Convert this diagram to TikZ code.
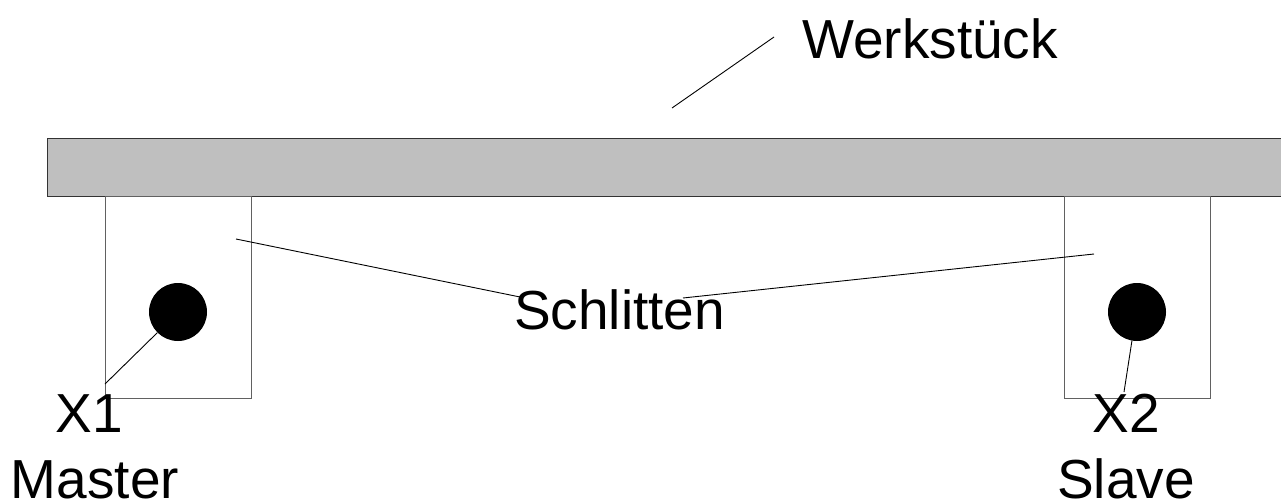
\documentclass[tikz,border=0pt]{standalone}
\usepackage{fontspec}
\setmainfont{Liberation Sans}
\begin{document}
\begin{tikzpicture}[x=1pt,y=-1pt,
  lbl/.style={inner sep=0pt,font=\fontsize{55}{66}\selectfont},
  carriage/.style={draw=black!62,line width=1pt,fill=white},
  axis/.style={circle,fill=black,inner sep=0pt,minimum size=58pt},
  leader/.style={draw=black,line width=0.9pt}]
\clip (0,0) rectangle (1281,500);
\fill[white] (0,0) rectangle (1281,500);
% workpiece bar
\draw[fill=black!25,draw=black!80,line width=1pt] (47,138) rectangle (1300,196);
% carriages
\draw[carriage] (105.5,196) rectangle (251,398);
\draw[carriage] (1064,196) rectangle (1210,398);
% axes
\node[axis] (c1) at (178,312) {};
\node[axis] (c2) at (1137,312) {};
% labels
\node[lbl,anchor=base west] (werk) at (802,59) {Werkstück};
\node[lbl,anchor=base west] (schl) at (514,329) {Schlitten};
\node[lbl,anchor=base] (x1) at (89,432) {X1};
\node[lbl,anchor=base] (m1) at (95,498) {Master};
\node[lbl,anchor=base] (x2) at (1126,432) {X2};
\node[lbl,anchor=base] (s2) at (1126,498) {Slave};
% leader end points
\coordinate (w0) at (672,108);
\coordinate (w1) at (774,37);
\coordinate (sa) at (236,239);
\coordinate (sb) at (520,297);
\coordinate (sc) at (683,298);
\coordinate (sd) at (1094,254);
\coordinate (l1) at (105,384);
\coordinate (l2) at (1124,392);
\draw[leader] (w0) -- (w1);
\draw[leader] (sa) -- (sb);
\draw[leader] (sc) -- (sd);
\draw[leader] (c1.225) -- (l1);
\draw[leader] (c2.260) -- (l2);
\end{tikzpicture}
\end{document}
